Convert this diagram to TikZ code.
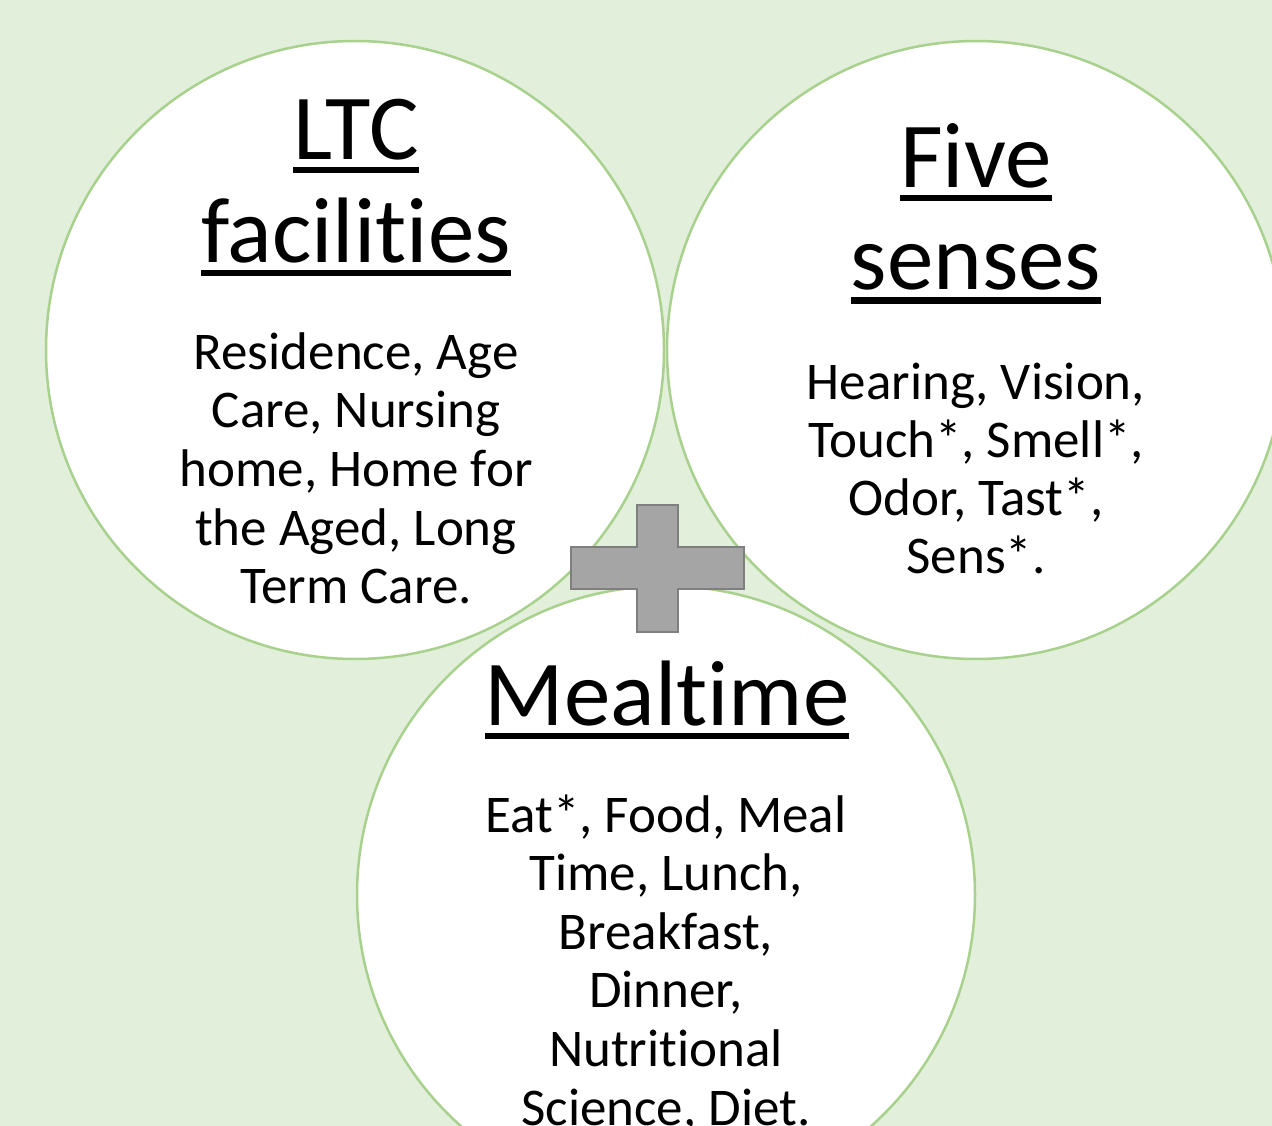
\documentclass[tikz,border=0pt]{standalone}
\usepackage{fontspec}
\setmainfont[Ligatures=NoCommon]{Carlito}
\definecolor{bgGreen}{HTML}{E2EFDA}
\definecolor{ringGreen}{HTML}{A9D18E}
\definecolor{plusFill}{HTML}{A5A5A5}
\definecolor{plusEdge}{HTML}{7F7F7F}
% underlined heading word: a rule as wide as the word's box
\newcommand\ulword[1]{\setbox0=\hbox{#1}\rlap{\rule[-13.5pt]{\wd0}{6pt}}\box0}
\begin{document}
\begin{tikzpicture}[x=1pt,y=-1pt,
  venn/.style={circle,draw=ringGreen,fill=white,line width=2.5pt,minimum size=618pt,inner sep=0pt},
  heading/.style={anchor=base,inner sep=0pt,font=\fontsize{93}{102}\selectfont},
  bodyline/.style={anchor=base,inner sep=0pt,font=\fontsize{53}{58}\selectfont}]
\useasboundingbox (0,0) rectangle (1272,1126);
\clip (0,0) rectangle (1272,1126);
\fill[bgGreen] (0,0) rectangle (1272,1126);

% the three circles
\node[venn] (ltc)   at (355,350) {};
\node[venn] (five)  at (976,350) {};
\node[venn] (meal)  at (666,895) {};

% plus sign between the circles
\draw[fill=plusFill,draw=plusEdge,line width=2pt]
  (571,547) -- (637,547) -- (637,505) -- (678,505) -- (678,547) -- (744,547)
  -- (744,589) -- (678,589) -- (678,632) -- (637,632) -- (637,589) -- (571,589) -- cycle;

% headings
\node[heading] (ltc-h1)  at (356,160) {\ulword{LTC}};
\node[heading] (ltc-h2)  at (356,262) {\ulword{facilities}};
\node[heading] (five-h1) at (976,188) {\ulword{Five}};
\node[heading] (five-h2) at (976,290) {\ulword{senses}};
\node[heading] (meal-h1) at (667,725) {\ulword{Mealtime}};

% keyword lists
\foreach \t [count=\i] in {{Residence, Age},{Care, Nursing},{home, Home for},{the Aged, Long},{Term Care.}}
  \node[bodyline] (ltc-l\i) at (356,369+58.7*\i-58.7) {\t};
\foreach \t [count=\i] in {{Hearing, Vision,},{Touch*, Smell*,},{Odor, Tast*,},{Sens*.}}
  \node[bodyline] (five-l\i) at (976,399+58*\i-58) {\t};
\foreach \t [count=\i] in {{Eat*, Food, Meal},{Time, Lunch,},{Breakfast,},{Dinner,},{Nutritional},{Science, Diet.}}
  \node[bodyline] (meal-l\i) at (666,832+58.6*\i-58.6) {\t};
\end{tikzpicture}
\end{document}
